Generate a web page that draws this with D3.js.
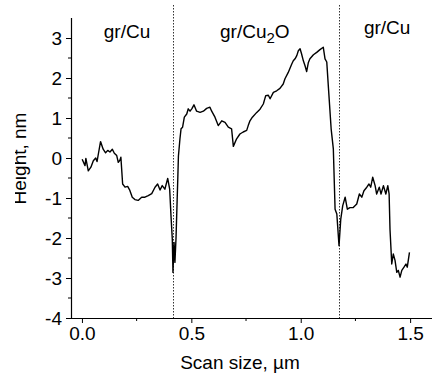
<!DOCTYPE html>
<html>
<head>
<meta charset="utf-8">
<script src="https://cdn.jsdelivr.net/npm/d3@7"></script>
<style>
  html, body { margin: 0; padding: 0; background: #fff; }
  svg { display: block; font-family: "Liberation Sans", Arial, sans-serif; }
</style>
</head>
<body>
<svg id="chart" width="439" height="383"></svg>
<script>
// Scan position (µm)
const scanX = [0.001,0.014,0.018,0.029,0.041,0.052,0.063,0.069,0.075,0.085,0.097,0.108,0.118,0.128,0.139,0.148,0.159,0.166,0.174,0.178,
  0.186,0.197,0.209,0.219,0.230,0.242,0.257,0.273,0.288,0.303,0.319,0.334,0.346,0.357,0.367,0.379,0.392,0.401,0.407,0.413,
  0.416,0.421,0.425,0.430,0.438,0.441,0.448,0.453,0.460,0.468,0.479,0.486,0.494,0.502,0.512,0.524,0.540,0.555,0.570,0.585,
  0.593,0.608,0.623,0.639,0.654,0.669,0.684,0.692,0.707,0.722,0.737,0.753,0.760,0.768,0.779,0.799,0.814,0.829,0.840,0.852,
  0.860,0.875,0.890,0.905,0.920,0.928,0.943,0.959,0.966,0.974,0.982,0.989,0.997,1.004,1.012,1.020,1.027,1.035,1.042,1.058,
  1.073,1.088,1.103,1.111,1.119,1.126,1.139,1.149,1.157,1.165,1.175,1.183,1.192,1.203,1.213,1.225,1.240,1.256,1.268,1.279,
  1.289,1.302,1.312,1.320,1.329,1.340,1.347,1.359,1.367,1.378,1.389,1.398,1.404,1.408,1.416,1.423,1.431,1.439,1.446,1.454,
  1.462,1.472,1.481,1.487,1.497];
// Height (nm)
const heightNm = [-0.03,-0.19,-0.01,-0.32,-0.23,-0.07,0.00,-0.09,0.10,0.41,0.22,0.13,0.19,0.15,0.22,0.12,0.06,-0.11,-0.05,0.02,
  -0.65,-0.73,-0.71,-0.81,-0.98,-1.04,-1.06,-0.98,-0.98,-0.94,-0.89,-0.73,-0.65,-0.80,-0.69,-0.78,-0.51,-0.78,-1.44,-2.03,
  -2.86,-2.11,-2.61,-2.00,-0.53,0.05,0.48,0.73,0.77,1.02,1.10,1.23,1.17,1.23,1.33,1.17,1.14,1.17,1.24,1.27,
  1.17,1.02,0.81,0.93,0.89,0.77,0.73,0.29,0.48,0.60,0.65,0.69,0.81,0.93,1.02,1.14,1.22,1.35,1.56,1.57,
  1.48,1.64,1.68,1.74,1.85,1.98,2.14,2.35,2.43,2.48,2.56,2.68,2.73,2.60,2.43,2.30,2.16,2.39,2.48,2.58,
  2.64,2.71,2.77,2.48,2.40,1.81,0.73,0.23,-1.28,-1.40,-2.19,-1.53,-1.19,-0.98,-1.28,-1.24,-1.24,-1.15,-0.90,-0.98,
  -0.82,-0.73,-0.65,-0.73,-0.48,-0.69,-0.90,-0.73,-0.90,-0.69,-0.90,-0.69,-0.90,-1.78,-2.65,-2.40,-2.56,-2.86,-2.81,-2.98,
  -2.81,-2.73,-2.65,-2.73,-2.36];

const xTicks = [0.0, 0.5, 1.0, 1.5];
const xMinorTicks = [0.25, 0.75, 1.25];
const yTicks = [-4, -3, -2, -1, 0, 1, 2, 3];
const yMinorTicks = [-3.5, -2.5, -1.5, -0.5, 0.5, 1.5, 2.5];
const dividers = [0.416, 1.177];
const regionLabels = [
  { x: 0.206, main: "gr/Cu", sub: "", tail: "", y: 3.0 },
  { x: 0.790, main: "gr/Cu", sub: "2", tail: "O", y: 3.0 },
  { x: 1.395, main: "gr/Cu", sub: "", tail: "", y: 3.1 }
];

(function () {
const svg = d3.select("#chart");
const mLeft = 71, mRight = 432, mTop = 18, mBottom = 318;
const x = d3.scaleLinear().domain([-0.05, 1.6]).range([mLeft, mRight]);
const y = d3.scaleLinear().domain([-4, 3.5]).range([mBottom, mTop]);

const fontSize = 19;

// divider dotted lines
svg.selectAll("line.div").data(dividers).enter().append("line")
  .attr("x1", d => Math.round(x(d)) + 0.5).attr("x2", d => Math.round(x(d)) + 0.5)
  .attr("y1", 5).attr("y2", mBottom)
  .attr("stroke", "#333").attr("stroke-width", 1).attr("stroke-dasharray", "1.5,1.5");

// axes
const xAxis = d3.axisBottom(x).tickValues(xTicks).tickFormat(d3.format(".1f")).tickSize(5).tickPadding(4);
const yAxis = d3.axisLeft(y).tickValues(yTicks).tickFormat(d => d < 0 ? "-" + Math.abs(d) : d).tickSize(5).tickPadding(4);

const gx = svg.append("g").attr("transform", `translate(0,${mBottom})`).call(xAxis);
const gy = svg.append("g").attr("transform", `translate(${mLeft},0)`).call(yAxis);
[gx, gy].forEach(g => {
  g.select(".domain").attr("stroke", "#000").attr("stroke-width", 1.2);
  g.selectAll(".tick line").attr("stroke", "#000").attr("stroke-width", 1);
  g.selectAll(".tick text").attr("fill", "#000").style("font-size", fontSize + "px")
    .style("font-family", '"Liberation Sans", Arial, sans-serif');
});
gx.select(".domain").attr("d", `M${mLeft},0.5H${mRight}`);
gy.select(".domain").attr("d", `M0.5,${mBottom}V${mTop}`);

// minor ticks
svg.append("g").selectAll("line").data(xMinorTicks).enter().append("line")
  .attr("x1", d => x(d)).attr("x2", d => x(d))
  .attr("y1", mBottom).attr("y2", mBottom + 3).attr("stroke", "#000");
svg.append("g").selectAll("line").data(yMinorTicks).enter().append("line")
  .attr("x1", mLeft - 3).attr("x2", mLeft)
  .attr("y1", d => y(d)).attr("y2", d => y(d)).attr("stroke", "#000");

// data line
const pts = scanX.map((v, i) => [v, heightNm[i]]);
svg.append("path").datum(pts)
  .attr("fill", "none").attr("stroke", "#000").attr("stroke-width", 1.4)
  .attr("stroke-linejoin", "round")
  .attr("d", d3.line().x(d => x(d[0])).y(d => y(d[1])));

// region labels
regionLabels.forEach(r => {
  const t = svg.append("text").attr("x", x(r.x)).attr("y", y(r.y))
    .attr("text-anchor", "middle").style("font-size", fontSize + "px").attr("fill", "#000");
  t.append("tspan").text(r.main);
  if (r.sub) {
    t.append("tspan").attr("dy", 5).style("font-size", "15px").text(r.sub);
    t.append("tspan").attr("dy", -5).text(r.tail);
  }
});

// axis titles
svg.append("text").attr("x", 240).attr("y", 369).attr("text-anchor", "middle")
  .style("font-size", fontSize + "px").attr("fill", "#000").text("Scan size, µm");

svg.append("clipPath").attr("id", "ylabclip").append("rect")
  .attr("x", 15).attr("y", 0).attr("width", 60).attr("height", 383);
svg.append("g").attr("clip-path", "url(#ylabclip)")
  .append("text").attr("transform", "translate(25.5,158.5) rotate(-90)")
  .attr("text-anchor", "middle").style("font-size", fontSize + "px").attr("fill", "#000")
  .text("Height, nm");
})();
</script>
</body>
</html>
